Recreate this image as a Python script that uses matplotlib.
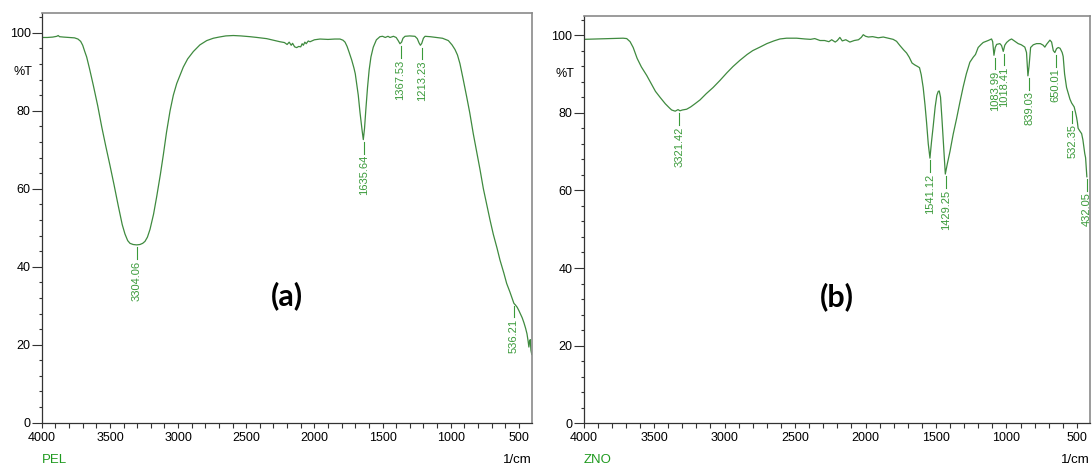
import matplotlib
matplotlib.use('Agg')
import matplotlib.pyplot as plt
from matplotlib.ticker import MultipleLocator, FixedLocator

plt.rcParams['font.family'] = ['Liberation Sans', 'DejaVu Sans']

# PEL spectrum (wavenumber in 1/cm, %T)
wn_pel = [4000, 3960, 3920, 3890, 3880, 3870, 3840, 3800, 3760, 3735, 3715, 3700, 3685,
          3671, 3650, 3622, 3590, 3560, 3530, 3500, 3470, 3439, 3410, 3390, 3370, 3353,
          3330, 3304, 3280, 3260, 3243, 3225, 3206, 3180, 3157, 3130, 3108, 3085, 3059,
          3035, 3010, 2985, 2962, 2930, 2888, 2840, 2790, 2742, 2700, 2650, 2595, 2540,
          2472, 2420, 2350, 2300, 2252, 2220, 2200, 2185, 2170, 2160, 2145, 2130, 2115,
          2100, 2090, 2081, 2070, 2060, 2045, 2032, 2000, 1959, 1900, 1850, 1812, 1790,
          1775, 1760, 1745, 1726, 1710, 1700, 1690, 1678, 1665, 1650, 1641, 1632, 1622,
          1610, 1598, 1585, 1568, 1545, 1519, 1500, 1480, 1460, 1445, 1420, 1400, 1385,
          1372, 1360, 1350, 1335, 1300, 1262, 1245, 1232, 1222, 1212, 1200, 1188, 1150,
          1103, 1060, 1017, 990, 968, 950, 932, 910, 882, 860, 834, 810, 785, 760, 736,
          710, 687, 660, 638, 610, 589, 565, 548, 536, 525, 512, 500, 488, 475, 462, 450,
          440, 432, 426, 421, 416, 411, 407, 405]
t_pel = [98.8, 98.8, 98.9, 99.1, 99.3, 99.0, 98.9, 98.8, 98.7, 98.4, 97.8, 96.8, 95.2,
         93.8, 90.8, 86.5, 81.3, 75.8, 70.8, 66.0, 61.0, 55.6, 50.8, 48.4, 46.7, 46.0,
         45.7, 45.6, 45.7, 46.0, 46.5, 47.6, 49.6, 53.5, 58.0, 63.7, 68.8, 74.5, 80.0,
         84.0, 87.0, 89.2, 91.2, 93.3, 95.2, 96.9, 98.0, 98.6, 98.9, 99.2, 99.3, 99.2,
         99.0, 98.8, 98.5, 98.1, 97.7, 97.5, 97.0, 97.6, 96.8, 97.3, 96.4, 96.2, 96.5,
         96.4, 97.2, 96.8, 97.6, 97.2, 97.9, 97.7, 98.2, 98.4, 98.3, 98.4, 98.4, 98.1,
         97.6, 96.5, 95.0, 93.0, 91.0, 89.5, 87.0, 84.0, 79.5, 75.0, 72.6, 75.5, 80.5,
         86.0, 90.5, 93.8, 96.3, 98.2, 99.0, 99.1, 98.8, 99.1, 98.8, 99.1, 98.8, 98.0,
         97.2, 97.6, 98.6, 99.1, 99.2, 99.1, 98.5, 97.4, 96.8, 97.3, 98.6, 99.1, 99.0,
         98.8, 98.6, 98.0, 96.9, 95.7, 94.3, 92.1, 88.4, 83.5, 79.5, 74.1, 69.7, 65.0, 60.0, 56.0,
         51.8, 48.3, 44.8, 41.7, 38.4, 35.7, 33.5, 31.8, 30.6, 30.2, 29.6, 28.8, 27.9, 26.9, 25.6, 24.2,
         22.8, 21.0, 19.4, 20.9, 21.3, 18.6, 17.8, 17.5]

peak_wn_pel = [3304.06, 1635.64, 1367.53, 1213.23, 536.21]
peak_t_pel = [45.6, 72.6, 97.2, 96.8, 30.6]
peak_lbl_pel = ['3304.06', '1635.64', '1367.53', '1213.23', '536.21']

# ZNO spectrum
wn_zno = [4000, 3900, 3800, 3720, 3694, 3670, 3648, 3620, 3590, 3552, 3520, 3490, 3458,
          3420, 3390, 3375, 3350, 3330, 3316, 3300, 3269, 3240, 3210, 3174, 3130, 3081,
          3033, 2983, 2940, 2891, 2840, 2800, 2749, 2700, 2650, 2607, 2560, 2489, 2430,
          2390, 2360, 2323, 2290, 2260, 2240, 2215, 2200, 2182, 2165, 2140, 2111, 2080,
          2050, 2030, 2016, 2000, 1980, 1950, 1910, 1874, 1840, 1804, 1780, 1756, 1730,
          1709, 1690, 1670, 1650, 1630, 1617, 1605, 1591, 1578, 1567, 1555, 1543, 1532,
          1520, 1506, 1494, 1484, 1477, 1468, 1458, 1445, 1434, 1420, 1401, 1378, 1354,
          1330, 1307, 1285, 1260, 1236, 1220, 1201, 1180, 1165, 1130, 1106, 1098, 1089,
          1080, 1070, 1047, 1035, 1023, 1012, 999, 980, 964, 940, 917, 895, 870, 858, 848,
          840, 829, 810, 787, 760, 740, 728, 716, 692, 680, 668, 657, 645, 633, 620, 605,
          598, 588, 574, 560, 550, 538, 520, 510, 503, 497, 492, 480, 467, 458, 451, 445,
          439, 434, 430]
t_zno = [98.9, 99.0, 99.1, 99.2, 99.1, 98.3, 96.8, 94.0, 91.8, 89.6, 87.5, 85.5, 84.0,
         82.3, 81.2, 80.7, 80.4, 80.8, 80.5, 80.7, 80.9, 81.5, 82.3, 83.3, 84.9, 86.5,
         88.3, 90.3, 91.9, 93.5, 95.0, 96.0, 96.9, 97.8, 98.5, 99.0, 99.2, 99.2, 99.0,
         98.9, 99.1, 98.6, 98.6, 98.3, 98.8, 98.2, 98.6, 99.4, 98.5, 98.8, 98.2, 98.6,
         98.8, 99.4, 100.1, 99.7, 99.5, 99.6, 99.3, 99.5, 99.2, 98.9, 98.4, 97.3, 96.2,
         95.4, 94.3, 92.8, 92.3, 91.9, 91.6, 89.8, 86.5, 82.0, 77.5, 72.0, 68.3, 72.5,
         76.5, 81.5, 84.5, 85.5, 85.6, 84.0, 78.5, 70.5, 64.2, 66.8, 70.0, 74.5, 78.5,
         82.8, 86.7, 90.0, 93.0, 94.3, 95.0, 96.8, 97.6, 98.1, 98.6, 99.0, 98.3, 94.8,
         96.8, 97.6, 97.8, 97.3, 95.8, 97.4, 98.1, 98.7, 99.0, 98.4, 97.8, 97.5, 96.9, 95.5, 89.5,
         92.0, 96.8, 97.5, 97.8, 97.8, 97.4, 96.9, 97.6, 98.7, 98.2, 96.0, 95.5, 96.5, 96.8, 96.6, 95.5,
         94.5, 90.0, 86.5, 84.8, 83.5, 82.5, 81.5, 80.0, 78.8, 77.5, 76.0, 75.3, 74.6, 73.0, 71.2, 69.5,
         68.4, 65.5, 63.5]

peak_wn_zno = [3321.42, 1541.12, 1429.25, 1083.99, 1018.41, 839.03, 650.01, 532.35, 432.05]
peak_t_zno = [80.5, 68.3, 64.2, 94.8, 95.8, 89.5, 95.5, 81.0, 63.5]
peak_lbl_zno = ['3321.42', '1541.12', '1429.25', '1083.99', '1018.41', '839.03',
                '650.01', '532.35', '432.05']

curve_color = '#3f8a3f'
label_color = '#3a9a3a'

fig = plt.figure(figsize=(10.92, 4.65), dpi=100)
ax1 = fig.add_axes([0.0383, 0.0910, 0.4489, 0.8804])
ax2 = fig.add_axes([0.5344, 0.0897, 0.4636, 0.8766])


def draw_panel(ax, wn, t, pk_wn, pk_t, pk_lbl, xmin, tag, name):
    ax.plot(wn, t, color=curve_color, lw=0.9)
    for w, v, s in zip(pk_wn, pk_t, pk_lbl):
        ax.plot([w, w], [v - 0.6, v - 3.6], color=label_color, lw=0.8)
        ax.text(w, v - 4.0, s, rotation=90, ha='center', va='top',
                fontsize=8, color=label_color)
    ax.set_xlim(4000, xmin)
    ax.set_ylim(0, 105)
    ax.xaxis.set_major_locator(FixedLocator([4000, 3500, 3000, 2500, 2000, 1500, 1000, 500]))
    ax.xaxis.set_minor_locator(MultipleLocator(100))
    ax.yaxis.set_major_locator(FixedLocator([0, 20, 40, 60, 80, 100]))
    ax.yaxis.set_minor_locator(MultipleLocator(4))
    ax.tick_params(axis='x', which='both', length=3.5, width=0.8, color='#333',
                   labelsize=9, pad=3)
    ax.tick_params(axis='y', which='major', length=7, width=0.8, color='#333',
                   labelsize=9, pad=1)
    ax.tick_params(axis='y', which='minor', length=2.5, width=0.8, color='#333')
    for side in ['left', 'bottom']:
        ax.spines[side].set_color('#333')
        ax.spines[side].set_linewidth(0.9)
    for side in ['top', 'right']:
        ax.spines[side].set_color('#8a8a8a')
        ax.spines[side].set_linewidth(1.2)
    ax.annotate('%T', xy=(0, 90), xycoords=('axes fraction', 'data'),
                xytext=(-9, 0), textcoords='offset pixels',
                ha='right', va='center', fontsize=9)
    ax.text(0.5, 0.31, tag, transform=ax.transAxes, ha='center', va='center',
            fontsize=22, fontweight='bold', family=['Lato', 'DejaVu Sans'])
    ax.annotate(name, xy=(0, 0), xycoords='axes fraction', xytext=(0, -37),
                textcoords='offset pixels', ha='left', va='center',
                fontsize=9.5, color='#1f9a1f')
    ax.annotate('1/cm', xy=(1, 0), xycoords='axes fraction', xytext=(0, -37),
                textcoords='offset pixels', ha='right', va='center', fontsize=9.5)


draw_panel(ax1, wn_pel, t_pel, peak_wn_pel, peak_t_pel, peak_lbl_pel, 403, '(a)', 'PEL')
draw_panel(ax2, wn_zno, t_zno, peak_wn_zno, peak_t_zno, peak_lbl_zno, 409, '(b)', 'ZNO')

fig.savefig('out.png', dpi=100)
